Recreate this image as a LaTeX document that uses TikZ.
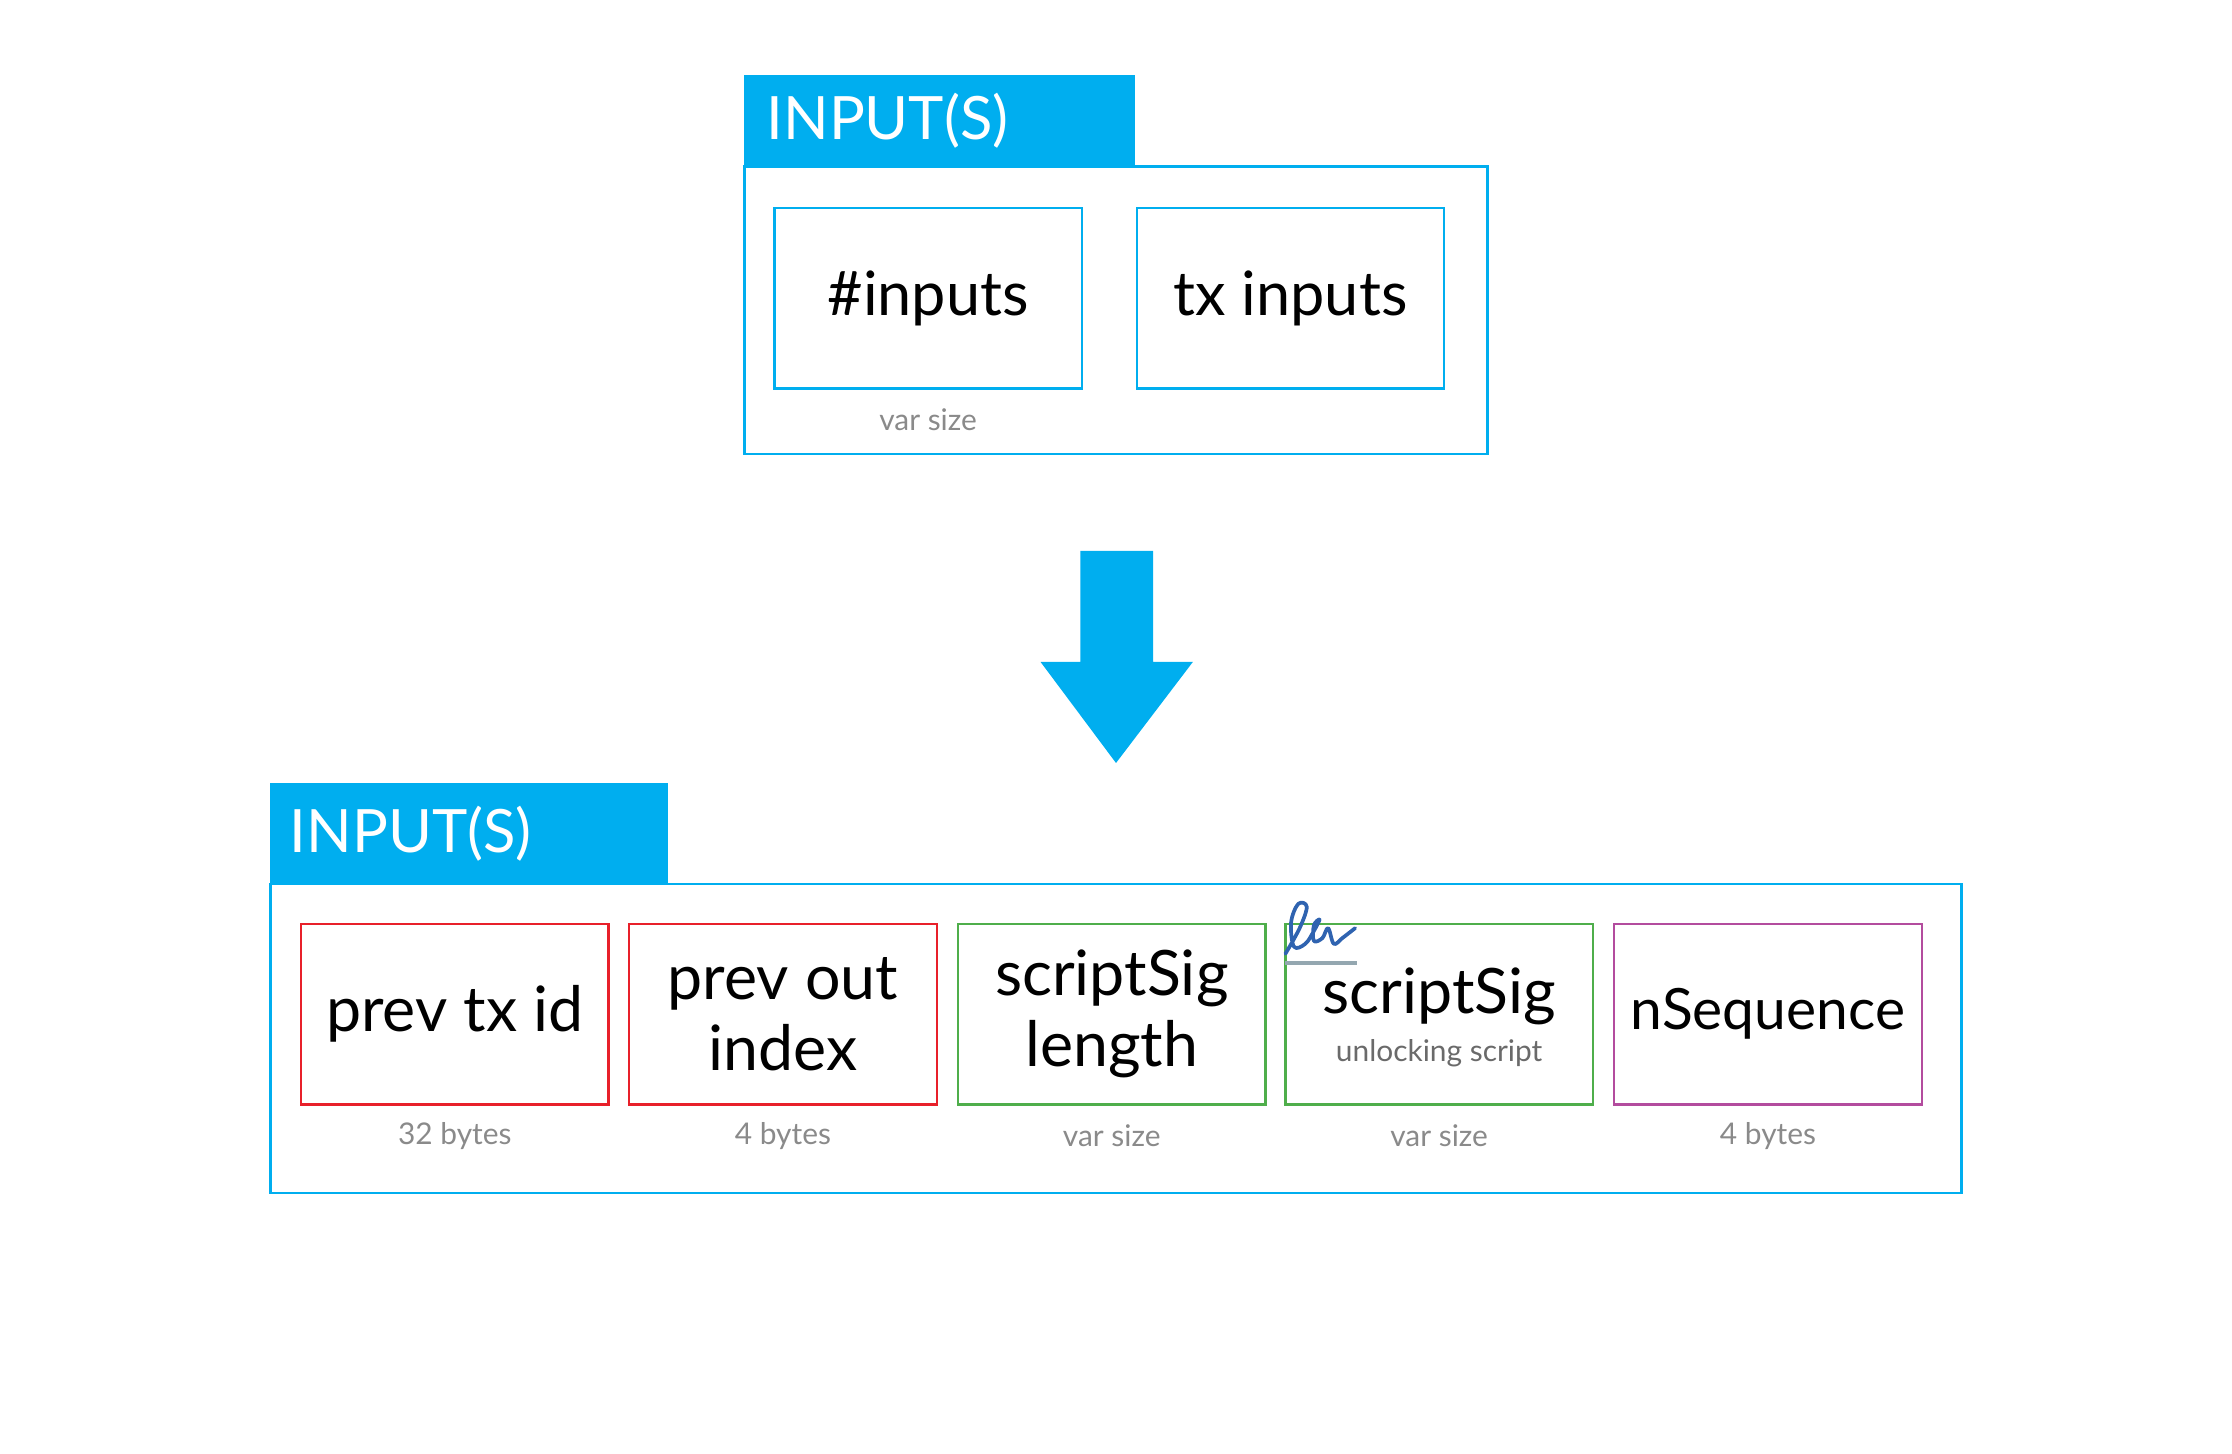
\documentclass[tikz,border=0pt]{standalone}
\usepackage{fontspec}
\setmainfont{Lato}
\usetikzlibrary{positioning}

\definecolor{inblue}{HTML}{00AEEF}
\definecolor{fieldred}{HTML}{E8202A}
\definecolor{fieldgreen}{HTML}{4FAE4B}
\definecolor{fieldpurple}{HTML}{B34C9E}
\definecolor{sizegray}{HTML}{8A8A8A}
\definecolor{subgray}{HTML}{6A6A6A}
\definecolor{sigblue}{HTML}{2F63B0}
\definecolor{siggray}{HTML}{94A7B0}

\tikzset{
  field/.style={draw=#1, line width=1.6pt, minimum width=216pt, minimum height=127pt,
    inner sep=0pt, align=center, font=\fontsize{44}{50}\selectfont},
  sizelbl/.style={text=sizegray, font=\fontsize{21}{24}\selectfont},
  tabtext/.style={anchor=west, text=white, font=\fontsize{42}{50}\selectfont},
  frame/.style={draw=inblue, line width=1.6pt}
}

\begin{document}
\begin{tikzpicture}[x=1pt, y=-1pt]
    \useasboundingbox (0,0) rectangle (1568,1021);

    % Top: the input(s) block
    \fill[inblue] (523,53) rectangle (797,117);
    \node[tabtext] (toptab) at (535,85) {INPUT(S)};
    \draw[frame] (523,117) rectangle (1045,319);

    \node[field=inblue, font=\fontsize{43}{50}\selectfont] (numinputs) at (652,209.5) {\#inputs};
    \node[field=inblue, font=\fontsize{43}{50}\selectfont, right=37pt of numinputs] (txinputs) {tx inputs};
    \node[sizelbl] (numsize) at (652,295) {var size};

    % Arrow down
    \fill[inblue] (759,387) -- (810,387) -- (810,465) -- (838,465)
        -- (784,536) -- (731,465) -- (759,465) -- cycle;

    % Bottom: the fields of one input
    \fill[inblue] (190,550) rectangle (469,621);
    \node[tabtext] (bottab) at (200,586) {INPUT(S)};
    \draw[frame] (190,621) rectangle (1378,838);

    \foreach \name/\x/\col/\txt/\size in {
        prevtx/319.5/fieldred/{prev tx id}/{32 bytes},
        prevout/550/fieldred/{prev out\\index}/{4 bytes},
        siglen/781/fieldgreen/{scriptSig\\length}/{var size},
        sig/1011/fieldgreen/{}/{var size},
        nseq/1242/fieldpurple/{\fontsize{40}{50}\selectfont nSequence}/{4 bytes}} {
        \node[field=\col] (\name) at (\x,712.5) {\txt};
        \node[sizelbl] (\name-size) at (\x,798) {\size};
    }

    % scriptSig text with its subtitle
    \node[font=\fontsize{44}{50}\selectfont] (sigtext) at (1011,700) {scriptSig};
    \node[text=subgray, font=\fontsize{21}{24}\selectfont] (sigsub) at (1011,740) {unlocking script};

    % Signature mark
    \draw[siggray, line width=2.4pt] (903,676.5) -- (953,676.5);
    \draw[sigblue, line width=2.6pt, line cap=round, line join=round]
        plot[smooth, tension=0.6] coordinates {(903,670) (913,652) (918,637) (912,635)
        (907,648) (909,665) (917,663) (923,654) (927,646) (923,650) (923,661)
        (929,659) (933,652) (937,663) (943,659) (952,652)};
\end{tikzpicture}
\end{document}
